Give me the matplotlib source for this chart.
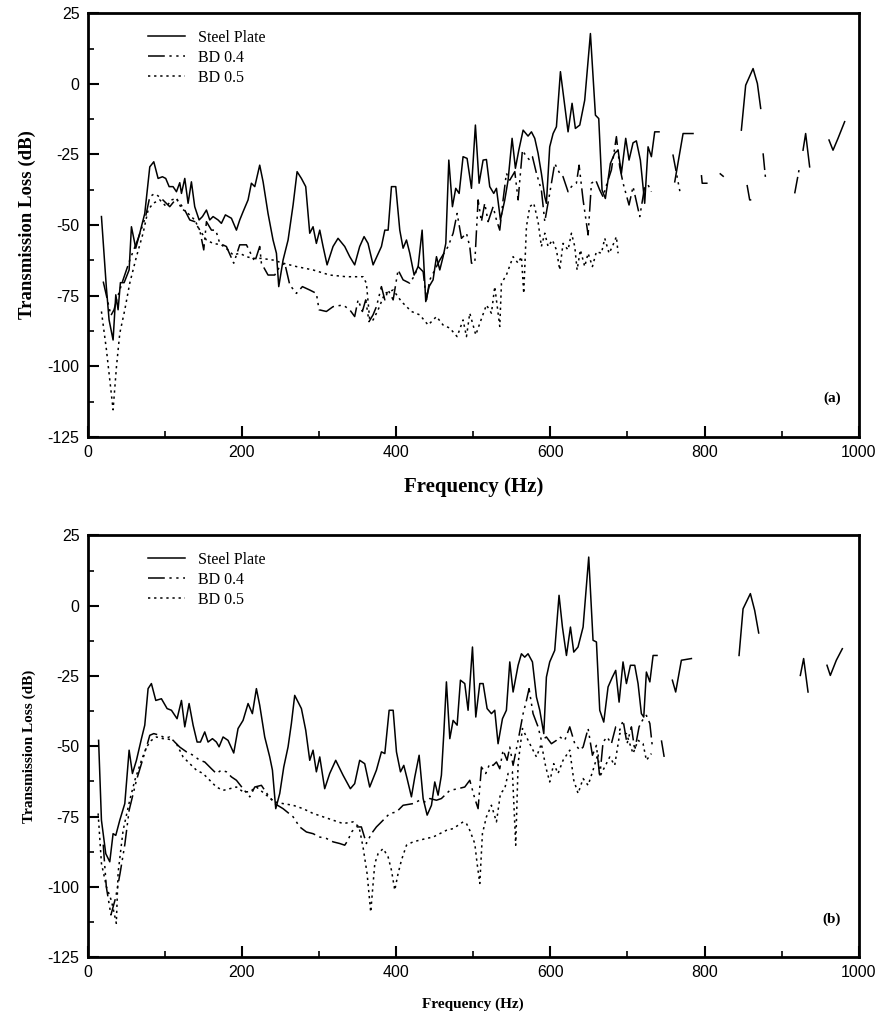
import numpy as np
import matplotlib
matplotlib.use("Agg")
import matplotlib.pyplot as plt
from matplotlib.ticker import MultipleLocator

nan = np.nan

# ---------------- panel (a) ----------------
a_steel_x = [17.7, 24, 27.6, 32.8, 36.3, 39.3, 42.3, 47.1, 53.6, 56.6, 62.2, 67.4, 73.9, 80.4, 85.6,
             91.2, 96.8, 101.1, 105.5, 110.6, 115, 119.3, 121.5, 125.8, 130.1, 134.4, 138.7, 144.4,
             148.7, 153.9, 158.2, 162.5, 169, 173.3, 178.5, 186.3, 192.8, 197.1, 201.4, 207.9, 212.2,
             216.6, 223, 227.4, 233.8, 240.3, 244.7, 247.7, 253.3, 259.8, 266.3, 271.5, 277.1, 282.7,
             287.9, 292.2, 296.5, 300.9, 305.2, 310.4, 318.1, 324.6, 333.3, 339.8, 346.2, 352.7, 358.4,
             363.5, 370.1, 380.9, 385.3, 389.6, 393.9, 399.5, 404.7, 409, 413.4, 417.7, 423.3, 428.5,
             433.7, 438.4, 442.7, 447.9, 452.3, 456.6, 460.9, 464.4, 468.3, 473, 477.3, 481.7, 486.8,
             492, 497.7, 502.8, 507.6, 512.8, 517.1, 521.4, 526.6, 530.1, 535.3, 540.9, 545.2, 550.4,
             554.7, 559.1, 564.7, 571.1, 575.5, 579.8, 584.1, 588.4, 592.8, 594.9, 599.2, 603.6, 607.9,
             613.1, 617.8, 623, 628.2, 632.5, 638.2, 644.6, 652, 658.5, 662.8, 667.1, 671.4, 677.9,
             683.5, 687.9, 692.2, 697.8, 702.1, 707.3, 711.6, 716.8, 720.3, 722.4, 726.8, 731.1, 735.4,
             741, 750,
             761.4, 772.2, 785.1, 800,
             847.8, 853.4, 863, 868.6, 872.9, 890,
             927.8, 931.2, 936.4, 950,
             961.5, 966.7, 973.2, 981.8]
a_steel_y = [-47, -71.8, -83.6, -90.7, -74.7, -80, -70.4, -70.4, -65.9, -50.6, -58.2, -52.9, -45.9, -29.4,
             -27.6, -33.5, -32.9, -33.5, -36.4, -36.4, -38.2, -35, -38.8, -33.5, -42.3, -34.7, -43.5,
             -48.2, -47, -44.7, -48.2, -47, -48.2, -49.4, -46.4, -47.6, -51.8, -48.2, -45.3, -41.1,
             -35.2, -36.4, -28.8, -34.7, -45.9, -55.3, -60, -71.8, -62.4, -55.3, -42.9, -31.1, -33.5,
             -36.4, -52.9, -50.6, -56.5, -51.8, -57.6, -64.1, -57.6, -54.7, -57.6, -61.2, -64.1, -57.6,
             -54.1, -56.5, -64.1, -57.6, -51.8, -51.8, -36.4, -36.4, -51.8, -58.2, -55.3, -60, -67.7,
             -64.7, -51.8, -77.1, -71.8, -69.4, -61.2, -65.9, -61.2, -56.5, -27, -43.5, -37, -38.8,
             -25.8, -26.4, -37, -14.6, -35.2, -27, -26.8, -36.4, -38.8, -37, -48.2, -41.1, -34.1, -19.3,
             -29.9, -23.5, -16.4, -18.5, -17, -19.3, -24.6, -31.7, -40, -42.3, -22.3, -17.6, -15.2, 4.3,
             -5.8, -17, -6.9, -15.8, -14.6, -5.8, 17.8, -11.1, -12.3, -37.6, -40.6, -28.2, -24.6, -23.5,
             -31.7, -19.3, -27, -20.9, -20.2, -27, -36.4, -42.3, -22.3, -25.8, -17, -17, nan,
             -34.7, -17.6, -17.6, nan,
             -16.4, -0.5, 5.4, 0.1, -8.7, nan,
             -23.5, -17.6, -29.4, nan,
             -19.9, -23.5, -19.3, -13.4]

a_bd4_x = [20, 25, 30, 34, 38, 45, 55, 65, 75, 80.4, 86.9, 95.5, 106.3, 115, 125.8, 132.3, 138.7, 145.2,
           150.4, 153.9, 160.4, 166, 171.2, 179.8, 189.3, 197.1, 205.8, 216.6, 223, 225.2, 233.8, 242.5,
           249, 255.5, 262, 270.6, 278.4, 287.9, 296.5, 300, 309.5, 318.1, 331.1, 339.8, 346.2, 350.6,
           356.2, 360.5, 364.8, 370, 374.4, 380.9, 385.3, 389.6, 396.1, 402.5, 409, 417.7, 424.2, 428.5,
           435, 439.3, 443.6, 450.1, 456.6, 467.4, 473.9, 479.1, 484.7, 491.2, 495.5, 497.7, 502, 506.3,
           510.6, 514.9, 519.3, 525.8, 530.1, 534.4, 538.7, 543, 547.4, 553.9, 558.2, 563.8, 569, 573.3,
           576.8, 582, 588.4, 592.8, 599.2, 605.7, 612.2, 616.5, 623, 627.4, 633.8, 637.3, 642.5, 649,
           653.3, 658.9, 664.1, 668.4, 673.6, 679.2, 685.7, 690, 694.4, 702.1, 707.3, 716, 722.4, 726.8,
           731.1, 745,
           759, 768, 780,
           796, 797, 804, 812,
           819.7, 825, 840,
           855.2, 858.6, 863, 870,
           876, 879.4, 900,
           917, 922.6]
a_bd4_y = [-70, -76, -82, -80, -76, -70, -62, -55, -47, -40, -38.8, -40.6, -43.5, -40.6, -44.7, -48.2,
           -48.8, -51.8, -58.8, -48.8, -51.8, -51.8, -56.5, -57.6, -63.5, -57, -57, -63, -57.6, -63.5,
           -67.7, -67.7, -64.7, -63.5, -71.2, -74.2, -71.8, -73, -74.2, -80, -80.6, -78.9, -78.3, -80,
           -82.4, -76.5, -80.6, -76.5, -84.2, -81.8, -78.9, -71.8, -76.5, -73, -76.5, -65.9, -69.4,
           -70.6, -67.7, -64.7, -66.5, -76.5, -69.4, -65.9, -62.4, -57.6, -52.9, -45.9, -54.7, -52.9,
           -57.6, -63.5, -63.5, -41.1, -48.8, -42.3, -48.8, -43.5, -48.2, -51.8, -41.1, -31.7, -34.1,
           -31.1, -41.1, -23.5, -25.8, -27, -25.8, -31.7, -37.6, -48.8, -38.8, -28.2, -31.7, -32.9,
           -38.2, -36.4, -35.2, -28.8, -41.1, -53.5, -35.2, -34.1, -37.6, -40, -35.2, -30.5, -18.7,
           -29.4, -35.2, -42.9, -36.4, -47, -36.4, -35.8, -38.2, nan,
           -25, -38, nan,
           -32.3, -35.2, -35.2, nan,
           -31.7, -32.9, nan,
           -35.8, -41.1, -41.1, nan,
           -24.6, -34.1, nan,
           -38.8, -30.5]

a_bd5_x = [17.7, 24.2, 32.8, 37.2, 41.5, 48, 54.4, 63.1, 71.7, 78.2, 84.7, 93.4, 102, 108.5, 115, 121.5,
           130.1, 138.7, 145.2, 153.9, 162.5, 173.3, 182, 188.5, 197.1, 205.8, 214.4, 225.2, 240.3,
           253.3, 270.6, 292.2, 313.8, 335.4, 357, 361.4, 365.7, 370.1, 376.6, 385.3, 396.1, 406.9,
           419.8, 430.6, 441.5, 452.3, 460.9, 469.6, 479.1, 486.8, 491.2, 495.5, 503.3, 508.5, 517.1,
           523.6, 527.9, 534.4, 536.6, 543, 551.7, 558.2, 562.5, 565.5, 569, 573.3, 578.5, 584.1,
           588.4, 592.8, 597.1, 602.7, 607.9, 612.2, 616.5, 623, 627.4, 631.7, 634.7, 639, 644.6, 649,
           654.6, 659.8, 666.3, 670.6, 676.2, 680.5, 685.7, 687.9]
a_bd5_y = [-80.6, -94.2, -115.4, -100.1, -88.3, -80, -70.6, -61.2, -52.9, -44.7, -42.3, -41.1, -43.5,
           -41.1, -40.6, -44.1, -45.9, -48.2, -51.8, -55.3, -56.5, -57, -58.8, -60.6, -60, -61.2, -61.8,
           -61.8, -62.4, -63.5, -64.7, -65.9, -67.7, -68.3, -68.3, -70.6, -83.6, -83.6, -80, -74.2,
           -73, -77.1, -80.6, -81.8, -85.4, -82.4, -85.4, -86.5, -89.5, -83.6, -89.5, -81.2, -88.9,
           -84.8, -78.3, -81.2, -71.8, -85.9, -70.6, -67.7, -61.2, -63.5, -61.2, -74.2, -50.6, -43.5,
           -42.3, -48.8, -57.6, -52.9, -57.6, -55.3, -58.8, -65.9, -56.5, -58.8, -52.9, -57.6, -65.9,
           -58.8, -64.7, -60, -64.7, -59.4, -60, -54.7, -60, -57.6, -54.1, -60]

# ---------------- panel (b) ----------------
b_steel_x = [14, 17.7, 23.3, 28.5, 32.8, 36.3, 41.5, 48, 53.6, 57.9, 63.1, 69.6, 73.9, 78.2, 82.5, 88.2,
             95.5, 102.9, 108.5, 115.8, 121.5, 125.8, 131.4, 136.6, 141.8, 146.1, 151.7, 156, 161.7,
             166.8, 170.3, 175.5, 181.9, 189.3, 194.9, 201.4, 207.9, 213.5, 218.7, 223, 229.5, 236,
             239.5, 243.8, 249, 254.2, 259.8, 264.1, 268.4, 277.1, 282.7, 287.9, 292.2, 296.5, 300.9,
             307.3, 313.8, 321.6, 331.1, 340.6, 346.2, 352.7, 359.2, 365.7, 374.4, 380.9, 385.3, 390.9,
             396.1, 400.4, 405.6, 409.9, 414.2, 419.8, 424.2, 429.8, 435, 440.2, 445.8, 450.1, 454.4,
             458.7, 461.8, 465.2, 469.6, 473.9, 479.1, 483.4, 489, 493.3, 499, 503.3, 508.5, 512.8, 518,
             523.6, 527.9, 532.2, 537.9, 543, 547.4, 551.7, 558.2, 562.5, 566.8, 571.1, 576.8, 582,
             586.3, 591.5, 594.9, 599.2, 605.7, 611.3, 615.7, 620.9, 626.1, 630.4, 635.9, 642.5, 649.8,
             655.4, 659.8, 664.1, 669.3, 674.9, 680.5, 684.8, 689.2, 694.3, 698.7, 703.9, 709.5, 713.8,
             718.1, 721.2, 724.6, 729.1, 733.3, 738.4, 745,
             758.3, 762.6, 770, 783, 800,
             844.8, 850, 859.5, 865.1, 870.3, 890,
             924.3, 928.6, 934.3, 945,
             958.9, 963.2, 971, 978.8]
b_steel_y = [-47.9, -76.3, -88.2, -91.1, -81.1, -81.7, -76.3, -70.4, -51.4, -59.7, -55, -47.3, -42.5,
             -29.5, -27.7, -33.7, -33.1, -36.6, -37.2, -40.2, -33.7, -43.1, -34.8, -42.5, -48.5, -48.5,
             -44.9, -48.5, -47.3, -48.5, -50.2, -46.7, -47.9, -52.4, -43.7, -40.8, -34.8, -38.4, -29.5,
             -35.4, -46.7, -53.8, -58.5, -72.2, -66.8, -57.4, -50.2, -41.9, -31.9, -36.6, -44.3, -55,
             -51.4, -59.1, -53.8, -65.1, -59.7, -55, -60.3, -65.1, -63.3, -55, -56.2, -64.5, -58.5, -52,
             -52.6, -37.2, -37.2, -52, -59.1, -56.8, -61.5, -68, -60.9, -53.2, -68.6, -74.5, -71, -62.7,
             -67.4, -60.3, -45.5, -27.1, -47.3, -40.8, -42.5, -26.5, -27.7, -37.2, -14.7, -39.6, -27.7,
             -27.7, -36.6, -38.4, -37.2, -49.1, -40.2, -37.2, -20, -30.7, -21.2, -17.1, -18.3, -17.1,
             -20, -32.5, -37.2, -45.5, -25.4, -20, -15.9, 3.7, -7.6, -17.7, -7.6, -16.5, -14.7, -7.6,
             17.3, -12.3, -12.9, -37.2, -41.4, -28.9, -25.4, -23, -34.3, -20, -27.7, -21.2, -21.2,
             -27.7, -38.4, -39.6, -23.6, -27.1, -17.7, -17.7, nan,
             -26.5, -30.7, -19.4, -18.8, nan,
             -17.7, -1.1, 4.3, -1.7, -9.7, nan,
             -24.8, -18.8, -30.7, nan,
             -21.2, -24.8, -19.4, -15.3]

b_bd4_x = [20, 24, 30, 36, 42, 48, 53.6, 63.1, 76.1, 80.4, 85.6, 93.4, 102, 110.6, 119.3, 128, 136.6,
           145.2, 151.7, 160.4, 166.8, 173.3, 179.8, 186.3, 192.8, 201.4, 210.1, 216.6, 225.2, 233.8,
           242.5, 253.3, 266.3, 274.9, 283.6, 292.2, 300.9, 309.5, 318.1, 326.8, 333.3, 337.6, 342,
           348.4, 354.9, 361.4, 367.9, 374.4, 378.8, 391.7, 400.4, 409, 422, 430.6, 437.1, 443.6,
           452.3, 458.7, 469.6, 480.4, 489, 495.5, 502, 506.3, 510.6, 516.2, 521.4, 525.8, 530.1,
           534.4, 538.7, 543.9, 547.4, 551.7, 558.2, 564.7, 569, 572.4, 577.6, 584.1, 588.4, 594.9,
           601.4, 607.9, 612.2, 618.7, 625.2, 631.7, 638.2, 642.5, 649, 654.6, 659.8, 664.1, 668.4,
           673.6, 679.2, 684.8, 690, 694.4, 699.5, 705.2, 709.5, 715.1, 719.4, 724.6, 729.1, 732.4,
           738, 744.1, 748.4]
b_bd4_y = [-85, -100, -110, -104, -95, -85, -72.8, -62.1, -50.3, -46.1, -45.5, -46.1, -47.3, -47.9,
           -50.3, -52, -53.2, -55, -55.6, -58, -59.7, -58.5, -59.1, -60.9, -62.1, -65.1, -68, -64.5,
           -63.9, -67.4, -70.4, -72.2, -75.1, -78.7, -80.5, -81.1, -82.3, -82.8, -84, -84.6, -85.2,
           -83.4, -80.5, -78.7, -78.7, -84.6, -81.1, -78.7, -77.5, -73.9, -73.4, -71, -70.4, -69.2,
           -69.8, -68.6, -69.2, -68.6, -65.7, -65.1, -64.5, -62.1, -68.6, -72.2, -57.4, -59.7, -56.2,
           -56.8, -55.6, -58, -51.4, -55, -50.3, -56.8, -47.9, -38.4, -33.7, -29.5, -38.4, -43.1,
           -47.9, -46.7, -49.1, -47.9, -46.7, -47.9, -43.1, -49.1, -51.4, -50.3, -43.7, -53.2, -49.7,
           -60.9, -48.5, -46.7, -49.1, -43.1, -44.3, -40.8, -49.1, -43.1, -51.4, -43.1, -40.8, -39,
           -41.9, -50.3, nan, -47.9, -55]

b_bd5_x = [13.4, 17.7, 24.2, 30.7, 37, 39.3, 45.8, 54.4, 61, 69.6, 76.1, 82.5, 89, 97.7, 106.3, 115,
           123.6, 132.3, 140.9, 149.5, 158.2, 166.8, 175.5, 184.1, 192.8, 201.4, 210.1, 218.7, 231.7,
           242.5, 253.3, 266.3, 279.2, 292.2, 305.2, 318.1, 331.1, 344.1, 351.9, 357, 362.3, 367,
           372.3, 376.6, 383.1, 389.6, 393.9, 398.2, 402.5, 406.9, 413.4, 422, 430.6, 439.3, 447.9,
           456.6, 465.2, 473.9, 480.4, 486.9, 491.2, 495.5, 502, 505, 508.5, 511.9, 517.1, 523.6,
           530.1, 535.3, 540.9, 545.2, 550.8, 555.1, 558.2, 563.8, 569, 575.5, 582, 588.4, 594.1,
           599.2, 604.4, 610, 616.5, 625.2, 630.4, 636, 642.5, 649, 655.4, 661.9, 664.1, 668.4, 677.1,
           683.5, 690, 698.7, 707.3, 713.8, 720.3, 724.6, 731.1]
b_bd5_y = [-73.9, -91.7, -100, -105, -113, -95, -79.9, -69.2, -62.1, -55, -50.3, -47.9, -46.7, -47.3,
           -46.7, -49.1, -53.8, -56.2, -58.5, -59.7, -62.1, -64.5, -65.7, -65.1, -64.5, -66.2, -66.2,
           -64.5, -67.4, -69.8, -70.4, -71, -72.2, -73.9, -75.1, -76.3, -77.5, -76.9, -78.7, -85.8,
           -95.3, -109, -91.7, -88.2, -86.4, -89.4, -94.1, -101.2, -95.3, -90.5, -85.2, -84, -83.4,
           -82.8, -82.3, -81.1, -79.9, -79.3, -78.1, -76.9, -77.5, -79.9, -84.6, -91.7, -98.8, -81.1,
           -75.1, -71, -76.9, -66.8, -65.1, -59.7, -59.1, -85.2, -56.2, -43.7, -46.7, -50.3, -53.8,
           -49.1, -57.4, -62.7, -56.2, -59.7, -55, -51.4, -62.1, -66.8, -61.5, -63.9, -58.5, -52.6,
           -60.9, -58.5, -53.8, -56.8, -45.5, -45.5, -52.6, -47.9, -49.1, -55, -52.6]

series_labels = ["Steel Plate", "BD 0.4", "BD 0.5"]

plt.rcParams["font.family"] = "Liberation Sans"
plt.rcParams["axes.unicode_minus"] = False
serif = "Liberation Serif"

fig = plt.figure(figsize=(8.78, 10.16), dpi=100)
ax_a = fig.add_axes([0.100, 0.570, 0.878, 0.417])
ax_b = fig.add_axes([0.100, 0.058, 0.878, 0.415])

dashdot = (0, (11, 3, 1.5, 3, 1.5, 3))
dotted = (0, (1.5, 2.5))

panels = [
    (ax_a, a_steel_x, a_steel_y, a_bd4_x, a_bd4_y, a_bd5_x, a_bd5_y, "(a)", 15, 13.5),
    (ax_b, b_steel_x, b_steel_y, b_bd4_x, b_bd4_y, b_bd5_x, b_bd5_y, "(b)", 11, 11),
]

for ax, sx, sy, d4x, d4y, d5x, d5y, tag, xl_size, yl_size in panels:
    ax.plot(sx, sy, color="black", lw=1.1, ls="-", label=series_labels[0])
    ax.plot(d4x, d4y, color="black", lw=1.1, ls=dashdot, label=series_labels[1])
    ax.plot(d5x, d5y, color="black", lw=1.1, ls=dotted, label=series_labels[2])

    ax.set_xlim(0, 1000)
    ax.set_ylim(-125, 25)
    ax.xaxis.set_major_locator(MultipleLocator(200))
    ax.xaxis.set_minor_locator(MultipleLocator(100))
    ax.yaxis.set_major_locator(MultipleLocator(25))
    ax.yaxis.set_minor_locator(MultipleLocator(12.5))
    ax.tick_params(which="major", direction="in", length=8, width=1.5, labelsize=11.5,
                   top=False, right=False, pad=6)
    ax.tick_params(which="minor", direction="in", length=4.5, width=1.2, top=False, right=False)
    for sp in ax.spines.values():
        sp.set_linewidth(2)

    ax.set_xlabel("Frequency (Hz)", fontsize=xl_size, fontweight="bold", family=serif, labelpad=12)
    ax.set_ylabel("Transmission Loss (dB)", fontsize=yl_size, fontweight="bold", family=serif,
                  labelpad=8)
    ax.text(0.965, 0.09, tag, transform=ax.transAxes, fontsize=11, fontweight="bold",
            family=serif, ha="center", va="center")
    ax.legend(loc="upper left", bbox_to_anchor=(0.06, 0.995), frameon=False,
              prop={"family": serif, "size": 11.5}, handlelength=2.3, handletextpad=0.8,
              labelspacing=0.25)

fig.savefig("out.png", dpi=100)
